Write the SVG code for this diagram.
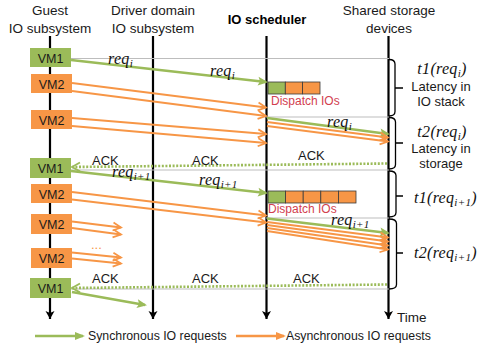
<svg xmlns="http://www.w3.org/2000/svg" width="477" height="349" viewBox="0 0 477 349">
  <style>
    .hdr { font-family: "Liberation Sans", Arial, sans-serif; font-size: 13.5px; fill: #1a1a1a; text-anchor: middle; }
    .hdrb { font-family: "Liberation Sans", Arial, sans-serif; font-size: 13px; font-weight: bold; fill: #000; text-anchor: middle; }
    .lbl { font-family: "Liberation Sans", Arial, sans-serif; font-size: 13px; fill: #1a1a1a; }
    .vm { font-family: "Liberation Sans", Arial, sans-serif; font-size: 12.5px; fill: #1a1a1a; text-anchor: middle; }
    .math { font-family: "Liberation Serif", "Times New Roman", serif; font-style: italic; font-size: 16px; fill: #111; letter-spacing: 0.3px; }
    .sub { font-size: 11px; }
    .disp { font-family: "Liberation Sans", Arial, sans-serif; font-size: 12px; fill: #D2404F; }
    .axis { stroke: #000; stroke-width: 2.2; fill: none; }
    .grid { stroke: #bdbdbd; stroke-width: 1; fill: none; }
    .sync { stroke: #9BBB59; stroke-width: 2.6; fill: none; }
    .async { stroke: #F79646; stroke-width: 1.8; fill: none; }
    .ack { stroke: #9BBB59; stroke-width: 2.6; stroke-dasharray: 2 1.6; fill: none; }
    .brace { stroke: #000; stroke-width: 1.3; fill: none; }
    .g { fill: #9BBB59; }
    .o { fill: #F79646; }
    .cell { stroke: #3a3a3a; stroke-width: 0.8; }
  </style>
  <defs>
    <marker id="headSync" markerUnits="userSpaceOnUse" markerWidth="12" markerHeight="12" viewBox="0 0 12 12" refX="9" refY="6" orient="auto">
      <path d="M1,1.5 L11,6 L1,10.5 L3,6 Z" fill="#9BBB59"/>
    </marker>
    <marker id="headAsync" markerUnits="userSpaceOnUse" markerWidth="12" markerHeight="12" viewBox="0 0 12 12" refX="10" refY="6" orient="auto">
      <path d="M2,2 L10,6 L2,10" fill="none" stroke="#F79646" stroke-width="1.8"/>
    </marker>
    <marker id="headAck" markerUnits="userSpaceOnUse" markerWidth="12" markerHeight="12" viewBox="0 0 12 12" refX="10" refY="6" orient="auto">
      <path d="M2,1.5 L10,6 L2,10.5" fill="none" stroke="#9BBB59" stroke-width="1.8"/>
    </marker>
    <marker id="headAxis" markerUnits="userSpaceOnUse" markerWidth="12" markerHeight="12" viewBox="0 0 12 12" refX="10" refY="6" orient="auto">
      <path d="M2,1.5 L10,6 L2,10.5 L4,6 Z" fill="#000"/>
    </marker>
    <marker id="legSync" markerUnits="userSpaceOnUse" markerWidth="12" markerHeight="12" viewBox="0 0 12 12" refX="9" refY="6" orient="auto">
      <path d="M1,2 L11,6 L1,10 Z" fill="#9BBB59"/>
    </marker>
    <marker id="legAsync" markerUnits="userSpaceOnUse" markerWidth="12" markerHeight="12" viewBox="0 0 12 12" refX="9" refY="6" orient="auto">
      <path d="M1,2 L11,6 L1,10 Z" fill="#F79646"/>
    </marker>
  </defs>

  <rect width="477" height="349" fill="#fff"/>

  <!-- column headers -->
  <g id="headers">
    <text class="hdr" x="50" y="15">Guest</text>
    <text class="hdr" x="50" y="33">IO subsystem</text>
    <text class="hdr" x="153" y="15">Driver domain</text>
    <text class="hdr" x="153" y="33">IO subsystem</text>
    <text class="hdrb" x="267" y="24">IO scheduler</text>
    <text class="hdr" x="389" y="15">Shared storage</text>
    <text class="hdr" x="389" y="33">devices</text>
  </g>

  <!-- time axes -->
  <g id="axes">
    <line class="axis" x1="50" y1="36" x2="50" y2="319" marker-end="url(#headAxis)"/>
    <line class="axis" x1="153" y1="36" x2="153" y2="319" marker-end="url(#headAxis)"/>
    <line class="axis" x1="266.5" y1="36" x2="266.5" y2="319" marker-end="url(#headAxis)"/>
    <line class="axis" x1="388.5" y1="36" x2="388.5" y2="319" marker-end="url(#headAxis)"/>
    <text class="lbl" x="397" y="322" style="font-size:13.5px">Time</text>
  </g>

  <!-- phase boundaries -->
  <g id="boundaries">
    <line class="grid" x1="71" y1="58.5" x2="389" y2="58.5"/>
    <line class="grid" x1="266" y1="117" x2="389" y2="117"/>
    <line class="grid" x1="71" y1="170" x2="389" y2="170"/>
    <line class="grid" x1="266" y1="218" x2="389" y2="218"/>
    <line class="grid" x1="71" y1="289" x2="389" y2="289"/>
  </g>

  <!-- connectors -->
  <g id="connectors">
    <!-- round i: guest to scheduler -->
    <line class="sync" x1="71" y1="60" x2="266" y2="82" marker-end="url(#headSync)"/>
    <line class="async" x1="72" y1="83" x2="266" y2="107.5" marker-end="url(#headAsync)"/>
    <line class="async" x1="72" y1="91" x2="266" y2="116" marker-end="url(#headAsync)"/>
    <line class="async" x1="72" y1="118" x2="266" y2="134" marker-end="url(#headAsync)"/>
    <line class="async" x1="72" y1="126" x2="266" y2="143" marker-end="url(#headAsync)"/>
    <!-- round i: scheduler to storage -->
    <line class="sync" x1="267" y1="118" x2="388" y2="134" marker-end="url(#headSync)"/>
    <line class="async" x1="267" y1="122" x2="388" y2="137.5" marker-end="url(#headAsync)"/>
    <line class="async" x1="267" y1="126" x2="388" y2="141.5" marker-end="url(#headAsync)"/>
    <!-- ack i -->
    <line class="ack" x1="387" y1="163.5" x2="72" y2="167" marker-end="url(#headAck)"/>

    <!-- round i+1: guest to scheduler -->
    <line class="sync" x1="71" y1="171" x2="266" y2="193" marker-end="url(#headSync)"/>
    <line class="async" x1="72" y1="192" x2="266" y2="215.5" marker-end="url(#headAsync)"/>
    <line class="async" x1="72" y1="199.5" x2="266" y2="222.5" marker-end="url(#headAsync)"/>
    <line class="async" x1="72" y1="221.5" x2="121" y2="227.5" marker-end="url(#headAsync)"/>
    <line class="async" x1="72" y1="228" x2="121" y2="234.5" marker-end="url(#headAsync)"/>
    <line class="async" x1="72" y1="252.5" x2="121" y2="257.5" marker-end="url(#headAsync)"/>
    <line class="async" x1="72" y1="258.5" x2="121" y2="263.5" marker-end="url(#headAsync)"/>
    <!-- round i+1: scheduler to storage -->
    <line class="sync" x1="267" y1="218.5" x2="388" y2="233" marker-end="url(#headSync)"/>
    <line class="async" x1="267" y1="222" x2="388" y2="237.5" marker-end="url(#headAsync)"/>
    <line class="async" x1="267" y1="225" x2="388" y2="241.5" marker-end="url(#headAsync)"/>
    <line class="async" x1="267" y1="228" x2="388" y2="245.5" marker-end="url(#headAsync)"/>
    <line class="async" x1="267" y1="231" x2="388" y2="249.5" marker-end="url(#headAsync)"/>
    <!-- ack i+1 -->
    <line class="ack" x1="387" y1="284.5" x2="72" y2="288" marker-end="url(#headAck)"/>
    <!-- next sync request -->
    <line class="sync" x1="72" y1="292" x2="145" y2="305" marker-end="url(#headSync)"/>
  </g>

  <!-- guest VM request sources -->
  <g id="vm1-a"><rect class="g" x="30" y="48" width="41" height="19"/><text class="vm" x="50.5" y="62.5">VM1</text></g>
  <g id="vm2-a"><rect class="o" x="31" y="74" width="41" height="19"/><text class="vm" x="51.5" y="88.5">VM2</text></g>
  <g id="vm2-b"><rect class="o" x="31" y="110" width="41" height="19"/><text class="vm" x="51.5" y="124.5">VM2</text></g>
  <g id="vm1-b"><rect class="g" x="30" y="158" width="41" height="20"/><text class="vm" x="50.5" y="173">VM1</text></g>
  <g id="vm2-c"><rect class="o" x="31" y="184" width="41" height="19"/><text class="vm" x="51.5" y="198.5">VM2</text></g>
  <g id="vm2-d"><rect class="o" x="31" y="214" width="41" height="20"/><text class="vm" x="51.5" y="229">VM2</text></g>
  <g id="vm2-e"><rect class="o" x="31" y="248" width="41" height="20"/><text class="vm" x="51.5" y="263">VM2</text></g>
  <g id="vm1-c"><rect class="g" x="30" y="278" width="41" height="20"/><text class="vm" x="50.5" y="293">VM1</text></g>

  <!-- scheduler dispatch queues -->
  <g id="queue-i">
    <rect class="g cell" x="268" y="82" width="17.3" height="12"/>
    <rect class="o cell" x="285.3" y="82" width="17.3" height="12"/>
    <rect class="o cell" x="302.6" y="82" width="17.4" height="12"/>
    <text class="disp" x="271" y="105">Dispatch IOs</text>
  </g>
  <g id="queue-i1">
    <rect class="g cell" x="268" y="191" width="17.6" height="12"/>
    <rect class="o cell" x="285.6" y="191" width="17.6" height="12"/>
    <rect class="o cell" x="303.2" y="191" width="17.6" height="12"/>
    <rect class="o cell" x="320.8" y="191" width="17.6" height="12"/>
    <rect class="o cell" x="338.4" y="191" width="17.6" height="12"/>
    <text class="disp" x="268" y="213">Dispatch IOs</text>
  </g>

  <!-- request / ack labels -->
  <g id="labels">
    <text class="math" x="108" y="64">req<tspan class="sub" dy="3">i</tspan></text>
    <text class="math" x="210" y="76">req<tspan class="sub" dy="3">i</tspan></text>
    <text class="math" x="327" y="127">req<tspan class="sub" dy="3">i</tspan></text>
    <text class="lbl" x="92" y="165">ACK</text>
    <text class="lbl" x="192" y="165">ACK</text>
    <text class="lbl" x="298" y="160">ACK</text>
    <text class="math" x="112" y="177">req<tspan class="sub" dy="3">i+1</tspan></text>
    <text class="math" x="199" y="185">req<tspan class="sub" dy="3">i+1</tspan></text>
    <text class="math" x="331" y="225">req<tspan class="sub" dy="3">i+1</tspan></text>
    <text class="lbl" x="91" y="249" style="fill:#F79646">...</text>
    <text class="lbl" x="92" y="283">ACK</text>
    <text class="lbl" x="192" y="283">ACK</text>
    <text class="lbl" x="293" y="283">ACK</text>
  </g>

  <!-- latency braces -->
  <g id="brace-t1-i">
    <path class="brace" d="M389,59.5 Q395,59.5 395,64 V111.5 Q395,116 389,116 M395,88 H403"/>
    <text class="math" x="442" y="74" text-anchor="middle">t1(req<tspan class="sub" dy="3">i</tspan><tspan dy="-3">)</tspan></text>
    <text class="lbl" x="441" y="91" text-anchor="middle">Latency in</text>
    <text class="lbl" x="441" y="106" text-anchor="middle">IO stack</text>
  </g>
  <g id="brace-t2-i">
    <path class="brace" d="M389,117.5 Q395.5,117.5 395.5,122 V164.5 Q395.5,169 389,169 M395.5,143 H403"/>
    <text class="math" x="442" y="137" text-anchor="middle">t2(req<tspan class="sub" dy="3">i</tspan><tspan dy="-3">)</tspan></text>
    <text class="lbl" x="441" y="153" text-anchor="middle">Latency in</text>
    <text class="lbl" x="441" y="168" text-anchor="middle">storage</text>
  </g>
  <g id="brace-t1-i1">
    <path class="brace" d="M389,171 Q396,171 396,175.5 V212.5 Q396,217 389,217 M396,196 H403"/>
    <text class="math" x="414" y="203">t1(req<tspan class="sub" dy="3">i+1</tspan><tspan dy="-3">)</tspan></text>
  </g>
  <g id="brace-t2-i1">
    <path class="brace" d="M389,219 Q396.5,219 396.5,223.5 V284.5 Q396.5,289 389,289 M396.5,253 H403"/>
    <text class="math" x="414" y="258">t2(req<tspan class="sub" dy="3">i+1</tspan><tspan dy="-3">)</tspan></text>
  </g>

  <!-- legend -->
  <g id="legend">
    <line x1="35" y1="336" x2="83" y2="336" stroke="#9BBB59" stroke-width="2.6" marker-end="url(#legSync)"/>
    <text class="lbl" x="88" y="340" style="font-size:12.3px">Synchronous IO requests</text>
    <line x1="236" y1="336" x2="284" y2="336" stroke="#F79646" stroke-width="2.6" marker-end="url(#legAsync)"/>
    <text class="lbl" x="286" y="340" style="font-size:12.3px">Asynchronous IO requests</text>
  </g>
</svg>
